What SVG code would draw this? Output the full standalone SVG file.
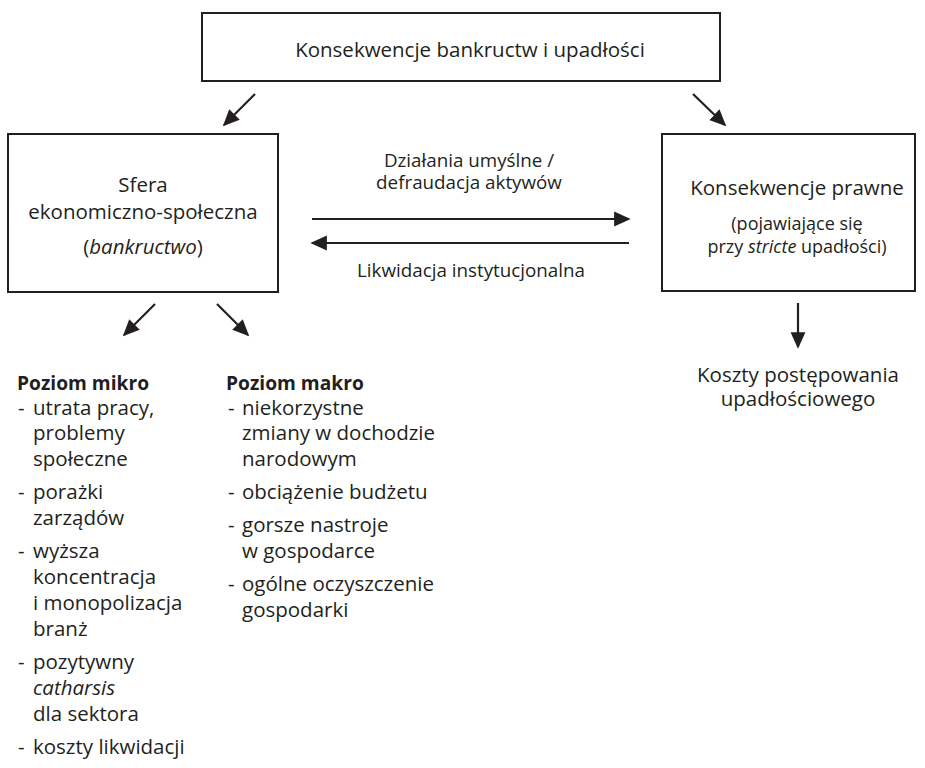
<svg xmlns="http://www.w3.org/2000/svg" width="925" height="768" viewBox="0 0 925 768">
<style>
text{font-family:"Open Sans","Noto Sans",sans-serif;fill:#231f20;}
.t{font-size:20.5px;}
.s{font-size:18px;}
.m{font-size:18.8px;}
.b{font-weight:bold;font-size:19.2px;}
.c{text-anchor:middle;}
.box{fill:#fff;stroke:#231f20;stroke-width:2;}
.ln{stroke:#231f20;stroke-width:2.2;fill:none;}
</style>
<defs>
<marker id="ah" viewBox="0 0 10 10" refX="9" refY="5" markerWidth="7.5" markerHeight="7.5" markerUnits="strokeWidth" orient="auto">
<path d="M0,0.5 L10,5 L0,9.5 z" fill="#231f20"/>
</marker>
</defs>
<rect width="925" height="768" fill="#fff"/>
<g id="n-top">
<rect class="box" x="202" y="13" width="518" height="68"/>
<text class="t c" x="470" y="57">Konsekwencje bankructw i upadłości</text>
</g>
<g id="n-left">
<rect class="box" x="8" y="134" width="270" height="158"/>
<text class="t c" x="143" y="192">Sfera<tspan x="143" y="219">ekonomiczno-społeczna</tspan><tspan x="143" y="254">(<tspan font-style="italic">bankructwo</tspan>)</tspan></text>
</g>
<g id="n-right">
<rect class="box" x="662" y="134" width="253" height="157"/>
<text class="t c" x="797" y="195">Konsekwencje prawne</text>
<text class="s c" x="797" y="230">(pojawiające się<tspan x="797" y="253">przy <tspan font-style="italic">stricte</tspan> upadłości)</tspan></text>
</g>
<g id="n-costs">
<text class="t c" x="798" y="382">Koszty postępowania<tspan x="798" y="406">upadłościowego</tspan></text>
</g>
<g id="n-micro">
<text class="b" x="17" y="390">Poziom mikro</text>
<text class="t" x="18" y="415">-<tspan x="33">utrata pracy,</tspan><tspan x="33" y="440">problemy</tspan><tspan x="33" y="466">społeczne</tspan></text>
<text class="t" x="18" y="499">-<tspan x="33">porażki</tspan><tspan x="33" y="525">zarządów</tspan></text>
<text class="t" x="18" y="558">-<tspan x="33">wyższa</tspan><tspan x="33" y="584">koncentracja</tspan><tspan x="33" y="610">i monopolizacja</tspan><tspan x="33" y="636">branż</tspan></text>
<text class="t" x="18" y="669">-<tspan x="33">pozytywny</tspan><tspan x="33" y="695" font-style="italic">catharsis</tspan><tspan x="33" y="721">dla sektora</tspan></text>
<text class="t" x="18" y="754">-<tspan x="33">koszty likwidacji</tspan></text>
</g>
<g id="n-macro">
<text class="b" x="226" y="390">Poziom makro</text>
<text class="t" x="228" y="415">-<tspan x="242">niekorzystne</tspan><tspan x="242" y="440">zmiany w dochodzie</tspan><tspan x="242" y="466">narodowym</tspan></text>
<text class="t" x="228" y="499">-<tspan x="242">obciążenie budżetu</tspan></text>
<text class="t" x="228" y="532">-<tspan x="242">gorsze nastroje</tspan><tspan x="242" y="558">w gospodarce</tspan></text>
<text class="t" x="228" y="591">-<tspan x="242">ogólne oczyszczenie</tspan><tspan x="242" y="617">gospodarki</tspan></text>
</g>
<g id="connectors">
<line class="ln" x1="255" y1="94" x2="224" y2="125" marker-end="url(#ah)"/>
<line class="ln" x1="693" y1="94" x2="725" y2="125" marker-end="url(#ah)"/>
<line class="ln" x1="312" y1="219" x2="629" y2="219" marker-end="url(#ah)"/>
<line class="ln" x1="629" y1="243" x2="312" y2="243" marker-end="url(#ah)"/>
<line class="ln" x1="155" y1="304" x2="124" y2="335" marker-end="url(#ah)"/>
<line class="ln" x1="217" y1="304" x2="248" y2="335" marker-end="url(#ah)"/>
<line class="ln" x1="798" y1="303" x2="798" y2="347" marker-end="url(#ah)"/>
<text class="m c" x="469" y="167">Działania umyślne /<tspan x="469" y="189">defraudacja aktywów</tspan></text>
<text class="m c" x="471" y="277">Likwidacja instytucjonalna</text>
</g>
</svg>
